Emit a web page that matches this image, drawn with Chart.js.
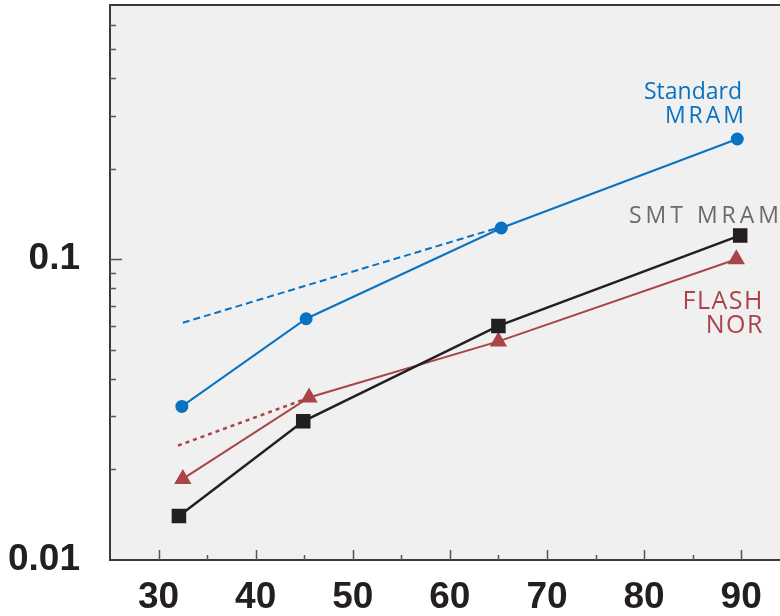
<!DOCTYPE html>
<html lang="en">
<head>
<meta charset="UTF-8">
<title>Standard MRAM, SMT MRAM and Flash NOR</title>
<script src="https://cdn.jsdelivr.net/npm/chart.js"></script>
<style>
  html, body { margin: 0; padding: 0; background: #ffffff; }
  #wrap { width: 780px; height: 616px; }
</style>
</head>
<body>
<div id="wrap"><canvas id="chart" width="780" height="616"></canvas></div>
<script>
// values (x = node, y = log scale)
const standardMram = [
  { x: 32.4, y: 0.0324 }, { x: 45.2, y: 0.0634 }, { x: 65.3, y: 0.127 }, { x: 89.6, y: 0.251 }
];
const smtMram = [
  { x: 32.1, y: 0.0140 }, { x: 44.9, y: 0.0289 }, { x: 65.0, y: 0.0600 }, { x: 89.9, y: 0.120 }
];
const flashNor = [
  { x: 32.5, y: 0.0186 }, { x: 45.5, y: 0.0347 }, { x: 65.0, y: 0.0533 }, { x: 89.5, y: 0.100 }
];
const standardTrend = [ { x: 32.5, y: 0.0615 }, { x: 64.9, y: 0.127 } ];
const flashTrend = [ { x: 32.0, y: 0.0240 }, { x: 45.0, y: 0.0342 } ];

const xTicks = [30, 35, 40, 45, 50, 55, 60, 65, 70, 75, 80, 85, 90];
const yTicks = [0.01, 0.02, 0.03, 0.04, 0.05, 0.06, 0.07, 0.08, 0.09, 0.1, 0.2, 0.3, 0.4, 0.5, 0.6];
const yLabels = { 0.01: '0.01', 0.1: '0.1' };

const BLUE = '#0a72c0';
const BLACK = '#231f20';
const RED = '#aa4449';
const GRAY = '#6b6b6b';

// scales keep a fixed size and no extra label padding
function fixBox(s, w, h) {
  if (w) s.width = w;
  if (h) s.height = h;
  s.paddingTop = 0;
  s.paddingBottom = 0;
  s.paddingLeft = 0;
  s.paddingRight = 0;
}

// grey plot area, top frame line and tick marks pointing inwards
const plotFrame = {
  id: 'plotFrame',
  beforeDraw(chart) {
    const { ctx, chartArea: a } = chart;
    ctx.save();
    ctx.fillStyle = '#f0f0f0';
    ctx.fillRect(a.left, a.top, a.right - a.left, a.bottom - a.top);
    ctx.restore();
  },
  beforeDatasetsDraw(chart) {
    const { ctx, chartArea: a, scales } = chart;
    ctx.save();
    ctx.strokeStyle = '#555555';
    ctx.lineWidth = 1.5;
    scales.x.ticks.forEach(t => {
      const px = Math.round(scales.x.getPixelForValue(t.value)) + 0.5;
      const len = t.value % 10 === 0 ? 10 : 5;
      ctx.beginPath();
      ctx.moveTo(px, a.bottom);
      ctx.lineTo(px, a.bottom - len);
      ctx.stroke();
    });
    scales.y.ticks.forEach(t => {
      if (t.value === 0.01) return;
      const py = Math.round(scales.y.getPixelForValue(t.value)) + 0.5;
      const len = t.value === 0.1 ? 12 : 6;
      ctx.beginPath();
      ctx.moveTo(a.left, py);
      ctx.lineTo(a.left + len, py);
      ctx.stroke();
    });
    ctx.strokeStyle = '#3a3a3a';
    ctx.lineWidth = 2;
    ctx.beginPath();
    ctx.moveTo(a.left - 1, a.top);
    ctx.lineTo(a.right, a.top);
    ctx.stroke();
    ctx.restore();
  },
  afterDraw(chart) {
    const { ctx } = chart;
    ctx.save();
    ctx.textAlign = 'right';
    ctx.textBaseline = 'alphabetic';
    ctx.font = '23px "Open Sans"';
    ctx.fillStyle = BLUE;
    ctx.letterSpacing = '0px';
    ctx.fillText('Standard', 742, 99);
    ctx.letterSpacing = '3px';
    ctx.fillText('MRAM', 747, 123);
    ctx.letterSpacing = '4px';
    ctx.fillStyle = GRAY;
    ctx.fillText('SMT MRAM', 783, 223);
    ctx.font = '25px "Open Sans"';
    ctx.letterSpacing = '1.5px';
    ctx.fillStyle = RED;
    ctx.fillText('FLASH', 764, 309);
    ctx.fillText('NOR', 764, 333);
    ctx.restore();
  }
};

const ctx = document.getElementById('chart').getContext('2d');
new Chart(ctx, {
  type: 'line',
  data: {
    datasets: [
      {
        label: 'Standard MRAM trend',
        data: standardTrend,
        borderColor: BLUE,
        borderWidth: 2,
        borderDash: [7, 4],
        pointRadius: 0
      },
      {
        label: 'Flash NOR trend',
        data: flashTrend,
        borderColor: RED,
        borderWidth: 2.5,
        borderDash: [4, 4],
        pointRadius: 0
      },
      {
        label: 'Standard MRAM',
        data: standardMram,
        borderColor: BLUE,
        backgroundColor: BLUE,
        borderWidth: 2,
        pointStyle: 'circle',
        pointRadius: 5.5
      },
      {
        label: 'SMT MRAM',
        data: smtMram,
        borderColor: BLACK,
        backgroundColor: BLACK,
        borderWidth: 2.5,
        pointStyle: 'rect',
        pointRadius: 8.5
      },
      {
        label: 'FLASH NOR',
        data: flashNor,
        borderColor: RED,
        backgroundColor: RED,
        borderWidth: 2,
        pointStyle: 'triangle',
        pointRadius: 8
      }
    ]
  },
  options: {
    responsive: false,
    animation: false,
    layout: { autoPadding: false, padding: { top: 5, left: 0, right: 0, bottom: 0 } },
    plugins: {
      legend: { display: false },
      tooltip: { enabled: false }
    },
    scales: {
      x: {
        type: 'linear',
        min: 25,
        max: 94,
        afterBuildTicks: s => { s.ticks = xTicks.map(v => ({ value: v })); },
        afterFit: s => fixBox(s, 0, 56),
        grid: { display: false },
        border: { display: true, color: '#3a3a3a', width: 2 },
        ticks: {
          autoSkip: false,
          maxRotation: 0,
          padding: 8,
          color: BLACK,
          font: { family: '"Liberation Sans"', size: 37, weight: 'bold' },
          callback: v => (v % 10 === 0 ? String(v) : '')
        }
      },
      y: {
        type: 'logarithmic',
        min: 0.01,
        max: 0.7,
        afterBuildTicks: s => { s.ticks = yTicks.map(v => ({ value: v })); },
        afterFit: s => fixBox(s, 110, 0),
        grid: { display: false },
        border: { display: true, color: '#3a3a3a', width: 2 },
        ticks: {
          autoSkip: false,
          padding: 22,
          color: BLACK,
          font: { family: '"Liberation Sans"', size: 37, weight: 'bold' },
          callback: v => yLabels[v] || ''
        }
      }
    }
  },
  plugins: [plotFrame]
});
</script>
</body>
</html>
